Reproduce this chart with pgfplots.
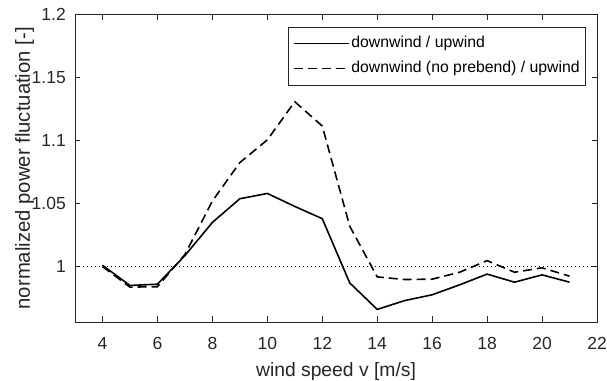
\documentclass[border=0pt]{standalone}
\usepackage{fontspec}
\setmainfont{Liberation Sans}
\usepackage{pgfplots}
\pgfplotsset{compat=1.18}
\definecolor{axgray}{gray}{0.15}
\begin{document}
\begin{tikzpicture}
\begin{axis}[
  width=522bp, height=307.5bp, scale only axis,
  xmin=3, xmax=22, ymin=0.956, ymax=1.2,
  xtick={4,6,...,22},
  ytick={1,1.05,1.1,1.15,1.2},
  yticklabels={1,1.05,1.1,1.15,1.2},
  /pgf/number format/assume math mode=true,
  axis line style={axgray, line width=0.6bp},
  tick style={axgray, line width=0.6bp},
  major tick length=5.5bp,
  tick align=inside,
  ticklabel style={text=axgray, font=\fontsize{17.5bp}{20bp}\selectfont},
  xticklabel style={inner sep=0pt, anchor=north, yshift=-15bp},
  yticklabel style={inner sep=0pt, anchor=east, xshift=-9bp},
  xlabel={wind speed v [m/s]},
  ylabel={normalized power fluctuation [-]},
  label style={text=axgray, font=\fontsize{19.3bp}{22bp}\selectfont, inner sep=0pt},
  xlabel style={at={(axis description cs:0.5,0)}, anchor=north, yshift=-40bp},
  ylabel style={at={(axis description cs:-0.115,0.5)}, anchor=north, font=\fontsize{20.3bp}{23bp}\selectfont},
  legend style={at={(rel axis cs:0.979,0.96)}, anchor=north east,
    draw=axgray, line width=0.6bp, fill=white,
    font=\fontsize{15.8bp}{18bp}\selectfont, text=black,
    inner xsep=4bp, inner ysep=7bp, row sep=6.3bp,
    nodes={inner sep=2bp, text height=11.5bp, text depth=3.3bp}},
  legend cell align=left,
  legend image code/.code={\draw[#1] (0bp,0bp) -- (55bp,0bp);},
]
\addplot[black, line width=1.6bp] coordinates {
(4,1.001) (5,0.985) (6,0.986) (7,1.0087) (8,1.035) (9,1.0538) (10,1.058)
(11,1.0477) (12,1.038) (13,0.987) (14,0.966) (15,0.973) (16,0.9776)
(17,0.9855) (18,0.994) (19,0.9876) (20,0.9934) (21,0.9876)};
\addlegendentry{downwind / upwind}
\addplot[black, line width=1.6bp, dash pattern=on 9bp off 5bp] coordinates {
(4,1.0) (5,0.9837) (6,0.984) (7,1.0095) (8,1.052) (9,1.0825) (10,1.1005)
(11,1.1308) (12,1.1115) (13,1.032) (14,0.9918) (15,0.9897) (16,0.990)
(17,0.9955) (18,1.0047) (19,0.9955) (20,0.999) (21,0.9924)};
\addlegendentry{downwind (no prebend) / upwind}
\addplot[black, line width=1bp, dash pattern=on 1.3bp off 2.7bp, forget plot] coordinates {(3,1) (22,1)};
\end{axis}
\pgfresetboundingbox
\path[use as bounding box] (current axis.south west) ++(-75bp,-59bp) rectangle ([xshift=10bp,yshift=14.5bp]current axis.north east);
\end{tikzpicture}
\end{document}
